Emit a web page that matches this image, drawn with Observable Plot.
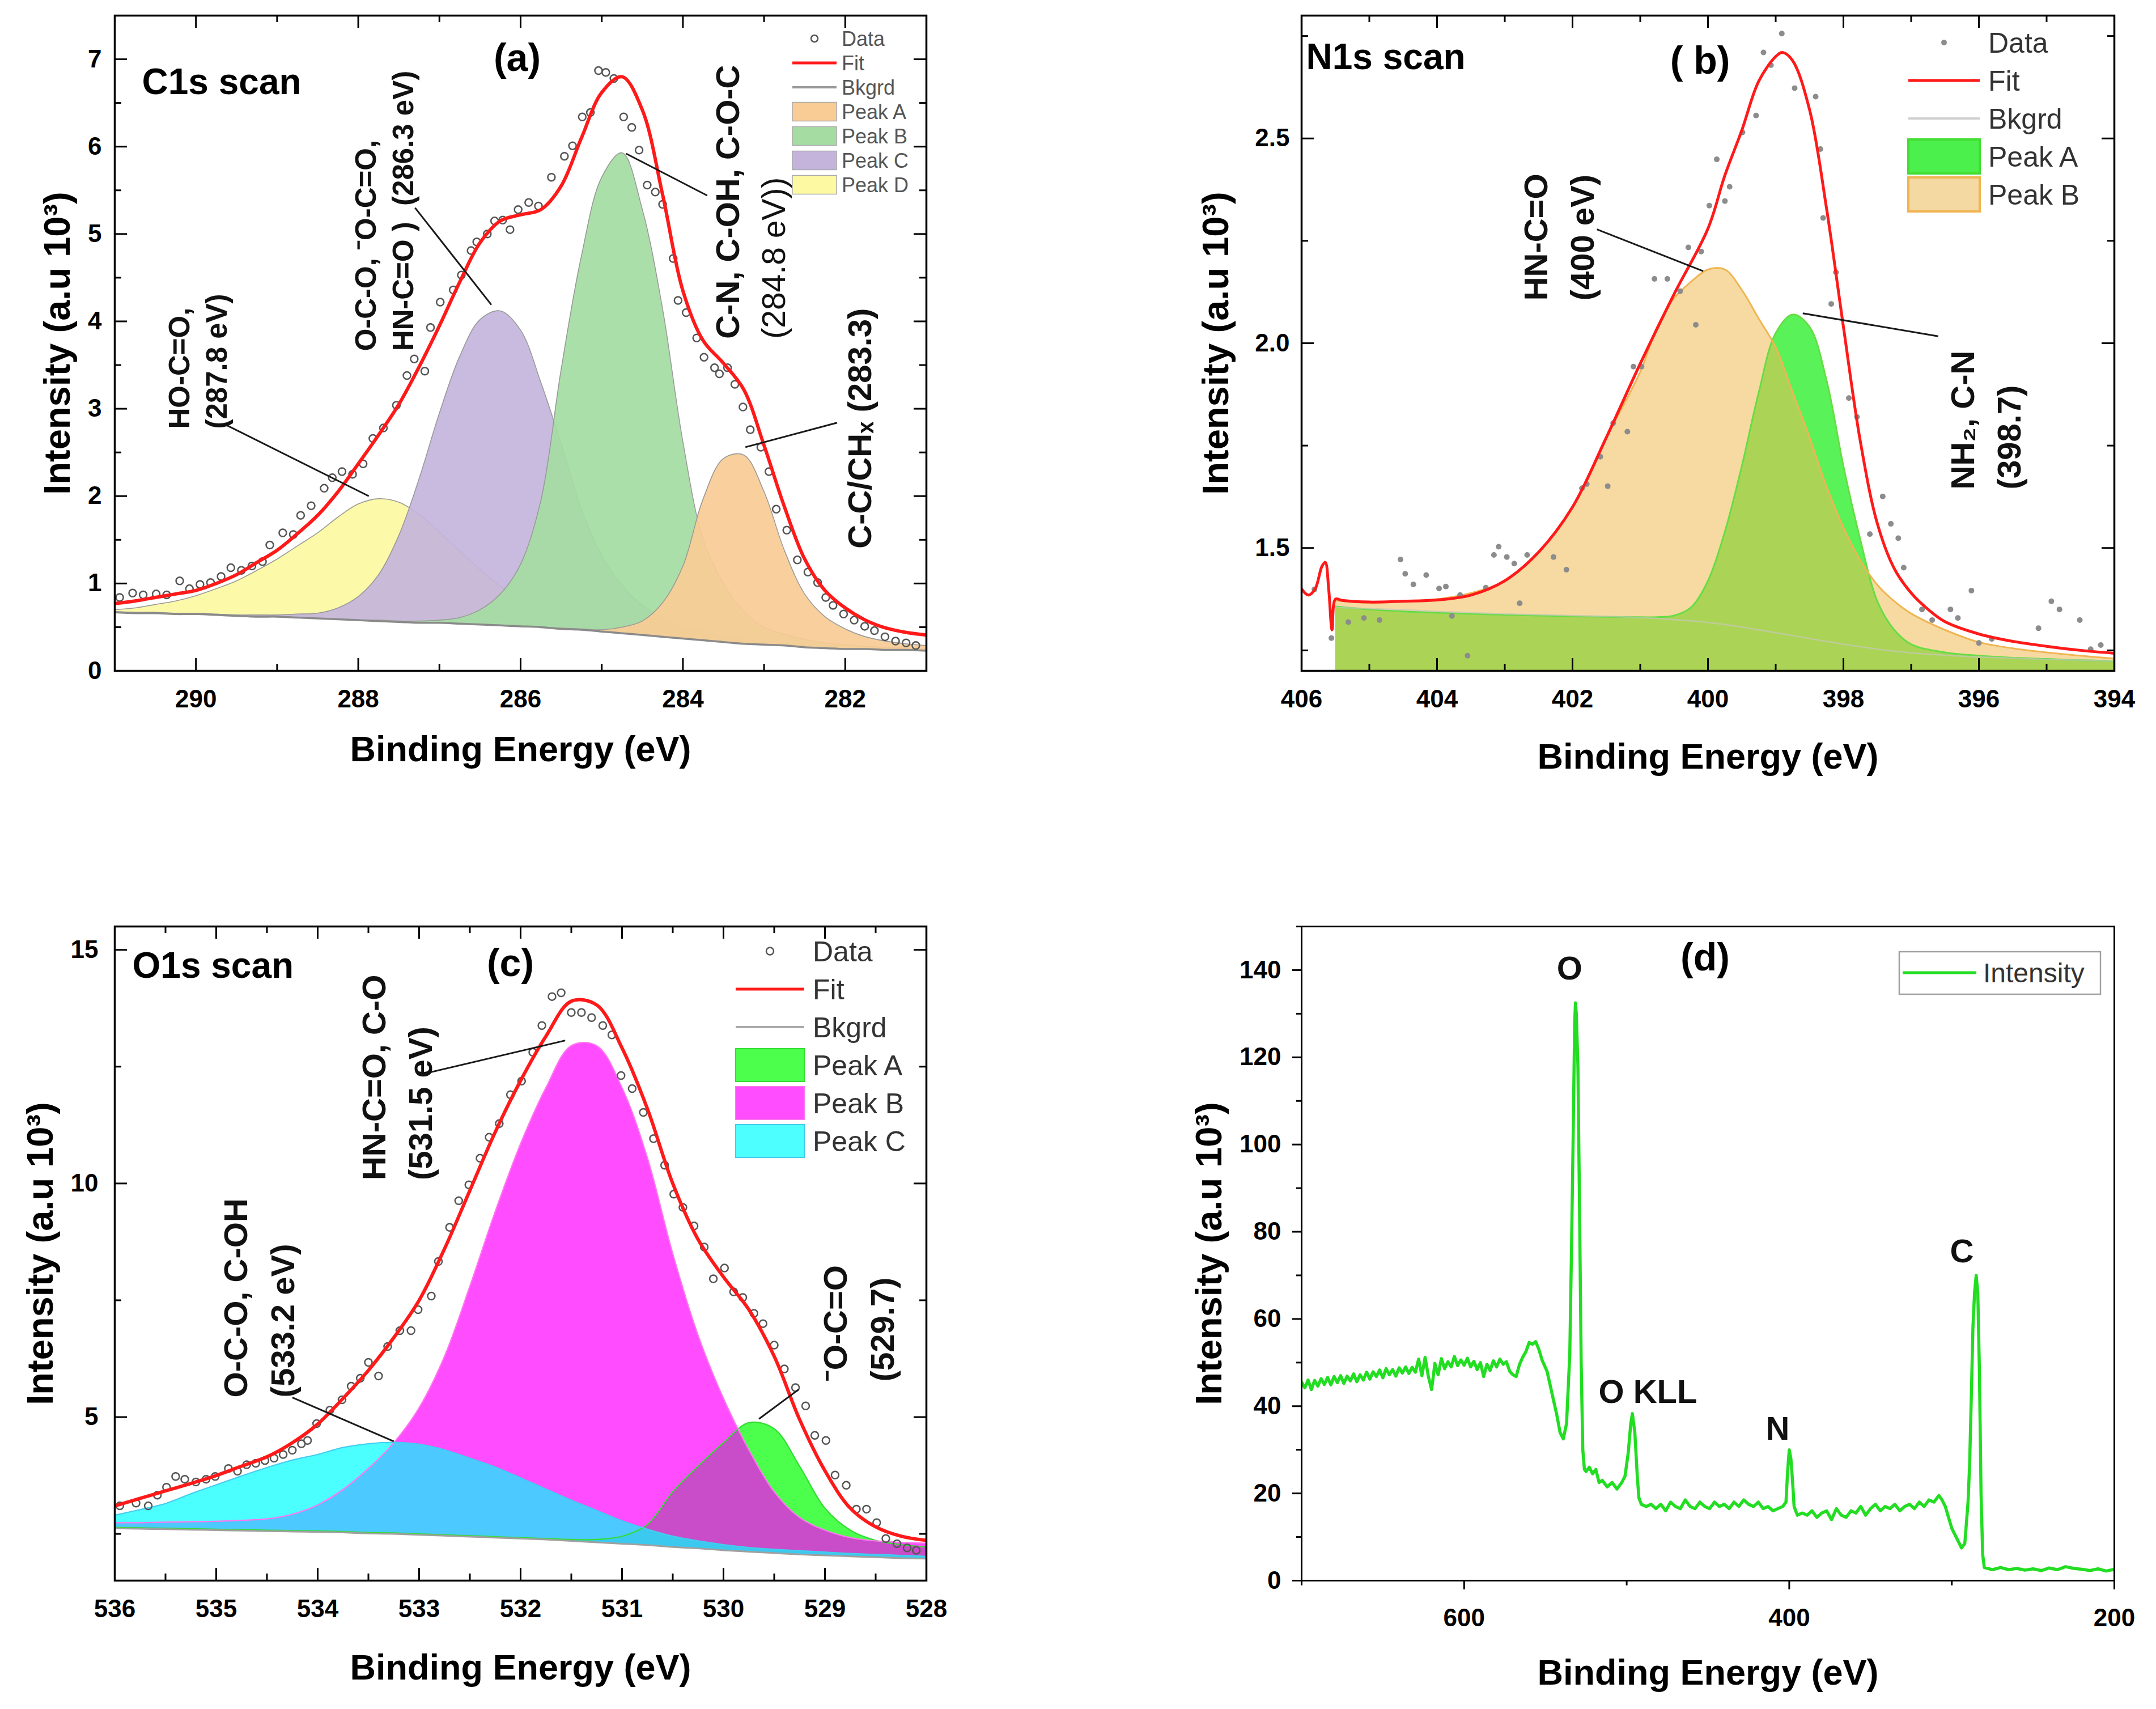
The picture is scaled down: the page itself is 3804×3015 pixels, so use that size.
<!DOCTYPE html>
<html><head><meta charset="utf-8">
<script src="https://cdn.jsdelivr.net/npm/d3@7"></script>
<script src="https://cdn.jsdelivr.net/npm/@observablehq/plot@0.6"></script>
<style>
html,body{margin:0;padding:0;background:#fff;}
#page{position:relative;width:3804px;height:3015px;background:#fff;overflow:hidden;font-family:"Liberation Sans",Arial,sans-serif;}
.panel{position:absolute;}
#overlay{position:absolute;left:0;top:0;pointer-events:none;}
</style></head>
<body><div id="page"></div>
<script>
// ---------------- Panel (a) C1s ----------------
const aXDomain = [291, 281];
const aYDomain = [0, 7.5];
const aXMajor = [290, 288, 286, 284, 282];
const aXMinor = [289, 287, 285, 283];
const aYMajor = [0, 1, 2, 3, 4, 5, 6, 7];
const aYMinor = [0.5, 1.5, 2.5, 3.5, 4.5, 5.5, 6.5];
const aX = [291,290.75,290.5,290.25,290,289.75,289.5,289.25,289,288.75,288.5,288.25,288,287.75,287.5,287.25,287,286.75,286.5,286.25,286,285.75,285.5,285.25,285,284.75,284.5,284.25,284,283.75,283.5,283.25,283,282.75,282.5,282.25,282,281.75,281.5,281.25,281];
const aBkg = [0.67,0.66,0.66,0.65,0.65,0.64,0.63,0.62,0.62,0.61,0.60,0.59,0.58,0.57,0.56,0.55,0.55,0.54,0.53,0.52,0.51,0.50,0.48,0.47,0.45,0.43,0.41,0.39,0.37,0.35,0.33,0.31,0.30,0.29,0.27,0.26,0.25,0.25,0.24,0.24,0.23];
const aPeakD = [0.70,0.72,0.76,0.80,0.86,0.94,1.03,1.15,1.28,1.43,1.58,1.76,1.91,1.97,1.93,1.79,1.59,1.37,1.16,0.97,0.83,0.72,0.64,0.58,0.54,0.50,0.47,0.43,0.40,0.37,0.35,0.33,0.31,0.30,0.28,0.27,0.26,0.25,0.24,0.24,0.23];
const aPeakC = [0.68,0.67,0.67,0.66,0.66,0.65,0.64,0.64,0.64,0.65,0.66,0.72,0.85,1.10,1.55,2.20,2.95,3.60,4.02,4.12,3.90,3.30,2.60,1.85,1.32,0.98,0.75,0.61,0.51,0.45,0.40,0.36,0.33,0.31,0.29,0.27,0.26,0.25,0.24,0.24,0.23];
const aPeakB = [0.67,0.66,0.66,0.65,0.65,0.64,0.63,0.62,0.62,0.61,0.60,0.59,0.58,0.58,0.57,0.57,0.58,0.61,0.70,0.88,1.22,1.95,3.45,4.75,5.65,5.93,5.28,4.14,2.62,1.50,1.00,0.68,0.50,0.42,0.36,0.32,0.30,0.28,0.27,0.26,0.25];
const aPeakA = [0.67,0.66,0.66,0.65,0.65,0.64,0.63,0.62,0.62,0.61,0.60,0.59,0.58,0.57,0.56,0.55,0.55,0.54,0.53,0.52,0.51,0.50,0.49,0.48,0.47,0.50,0.57,0.78,1.20,1.97,2.43,2.47,2.05,1.38,0.88,0.62,0.48,0.39,0.34,0.31,0.29];
const aFit = [0.77,0.80,0.84,0.88,0.92,1.00,1.10,1.24,1.38,1.57,1.78,2.05,2.37,2.70,3.05,3.48,3.95,4.45,4.90,5.15,5.22,5.28,5.55,6.10,6.62,6.80,6.42,5.45,4.35,3.78,3.52,3.22,2.58,1.88,1.28,0.92,0.72,0.58,0.49,0.44,0.41];
const aDataX = [290.94,290.78,290.65,290.49,290.36,290.2,290.08,289.95,289.82,289.69,289.57,289.44,289.31,289.18,289.09,288.93,288.8,288.71,288.58,288.42,288.32,288.2,288.07,287.94,287.82,287.69,287.53,287.4,287.31,287.18,287.11,286.99,286.83,286.73,286.61,286.54,286.41,286.32,286.22,286.13,286.03,285.9,285.78,285.62,285.46,285.36,285.24,285.14,285.04,284.95,284.85,284.73,284.63,284.54,284.44,284.34,284.25,284.12,284.06,283.96,283.83,283.74,283.61,283.55,283.45,283.36,283.26,283.17,283.04,282.94,282.85,282.72,282.59,282.46,282.34,282.24,282.15,282.02,281.89,281.76,281.64,281.51,281.38,281.25,281.13];
const aDataY = [0.84,0.89,0.87,0.88,0.87,1.03,0.94,0.99,1.01,1.08,1.18,1.15,1.2,1.25,1.44,1.58,1.56,1.78,1.89,2.09,2.21,2.28,2.25,2.37,2.66,2.78,3.04,3.38,3.57,3.43,3.93,4.22,4.36,4.53,4.81,4.91,5.0,5.15,5.16,5.05,5.28,5.36,5.32,5.65,5.89,6.01,6.34,6.39,6.87,6.85,6.78,6.34,6.22,5.96,5.56,5.48,5.34,4.72,4.24,4.1,3.81,3.59,3.47,3.4,3.47,3.28,3.02,2.76,2.56,2.28,1.85,1.61,1.27,1.13,1.01,0.84,0.75,0.65,0.58,0.51,0.46,0.39,0.34,0.32,0.29];
const aNoteLeftText = ["HO-C=O,\n(287.8 eV)", "O-C-O, \u207BO-C=O,\nHN-C=O )  (286.3 eV)"];
const aNoteLeftX = [290.0, 287.70];
const aNoteLeftY = [2.77, 3.66];
const aNoteRightText = ["C-N, C-OH, C-O-C", "C-C/CH\u2093 (283.3)"];
const aNoteRightX = [283.48, 281.85];
const aNoteRightY = [3.80, 1.40];
const aNoteLightText = ["(284.8 eV))"];
const aNoteLightX = [282.91];
const aNoteLightY = [3.80];
const aLeadX1 = [289.64, 287.30, 284.70, 283.23];
const aLeadY1 = [2.82, 5.30, 5.92, 2.56];
const aLeadX2 = [287.87, 286.36, 283.70, 282.10];
const aLeadY2 = [2.00, 4.19, 5.44, 2.84];
const aLegendLabels = ["Data", "Fit", "Bkgrd", "Peak A", "Peak B", "Peak C", "Peak D"];

// ---------------- Panel (b) N1s ----------------
const bXDomain = [406, 394];
const bYDomain = [1.2, 2.8];
const bXMajor = [406, 404, 402, 400, 398, 396, 394];
const bXMinor = [405, 403, 401, 399, 397, 395];
const bYMajor = [1.5, 2.0, 2.5];
const bYMinor = [1.25, 1.75, 2.25, 2.75];
const bX = [405.5,405,404.5,404,403.5,403,402.5,402,401.5,401,400.75,400.5,400.25,400,399.75,399.5,399.25,399,398.75,398.5,398.25,398,397.75,397.5,397.25,397,396.5,396,395.5,395,394.5,394];
const bBkg = [1.355,1.352,1.349,1.345,1.342,1.339,1.337,1.335,1.333,1.330,1.328,1.325,1.322,1.318,1.313,1.307,1.300,1.293,1.286,1.279,1.272,1.265,1.259,1.253,1.248,1.244,1.238,1.234,1.231,1.228,1.226,1.224];
const bPeakA = [1.357,1.350,1.345,1.342,1.339,1.337,1.335,1.333,1.332,1.331,1.331,1.335,1.355,1.42,1.54,1.70,1.88,2.025,2.07,2.04,1.91,1.70,1.52,1.37,1.30,1.265,1.245,1.237,1.232,1.229,1.226,1.224];
const bPeakB = [1.372,1.366,1.370,1.375,1.39,1.42,1.49,1.60,1.77,1.93,2.04,2.11,2.15,2.18,2.18,2.13,2.06,1.99,1.88,1.77,1.65,1.55,1.47,1.41,1.37,1.34,1.30,1.27,1.255,1.245,1.237,1.23];
const bFitX = [406,405.9,405.8,405.7,405.65,405.6,405.55,405.5,405.4,405,404.5,404,403.5,403,402.5,402,401.5,401,400.5,400,399.75,399.5,399.25,399,398.9,398.75,398.5,398.25,398,397.75,397.5,397.25,397,396.75,396.5,396,395.5,395,394.5,394];
const bFit = [1.40,1.385,1.40,1.455,1.465,1.40,1.30,1.375,1.372,1.368,1.370,1.373,1.385,1.42,1.49,1.60,1.77,1.95,2.12,2.28,2.41,2.52,2.64,2.70,2.71,2.69,2.57,2.33,2.04,1.76,1.56,1.45,1.39,1.35,1.32,1.29,1.272,1.26,1.25,1.243];
const bDataX = [405.81,405.56,405.31,405.08,404.85,404.54,404.47,404.35,404.16,403.97,403.87,403.78,403.66,403.55,403.28,403.16,403.09,402.97,402.86,402.78,402.67,402.28,402.09,401.86,401.79,401.59,401.48,401.40,401.19,401.10,400.98,400.79,400.60,400.41,400.29,400.18,400.10,399.98,399.87,399.75,399.68,399.49,399.29,399.18,399.07,398.91,398.72,398.41,398.34,398.30,398.18,398.11,397.92,397.80,397.61,397.42,397.30,397.19,397.11,396.84,396.69,396.42,396.31,396.11,396.00,395.81,395.12,394.93,394.81,394.51,394.35,394.20];
const bDataY = [1.399,1.28,1.319,1.329,1.324,1.472,1.437,1.411,1.434,1.401,1.406,1.334,1.385,1.237,1.403,1.483,1.503,1.478,1.462,1.365,1.483,1.478,1.447,1.646,1.656,1.723,1.651,1.805,1.784,1.943,1.943,2.157,2.157,2.127,2.234,2.045,2.224,2.336,2.449,2.347,2.382,2.515,2.556,2.710,2.679,2.756,2.623,2.602,2.474,2.306,2.096,2.173,1.866,1.820,1.534,1.626,1.559,1.524,1.452,1.350,1.324,1.350,1.329,1.396,1.268,1.278,1.304,1.370,1.350,1.324,1.253,1.263];
const bNoteText = ["HN-C=O\n(400 eV)", "NH\u2082, C-N\n(398.7)"];
const bNoteX = [402.25, 395.95];
const bNoteY = [2.104, 1.643];
const bLeadX1 = [401.64, 398.6];
const bLeadY1 = [2.278, 2.073];
const bLeadX2 = [400.07, 396.6];
const bLeadY2 = [2.176, 2.017];
const bLegendLabels = ["Data", "Fit", "Bkgrd", "Peak A", "Peak B"];

// ---------------- Panel (c) O1s ----------------
const cXDomain = [536, 528];
const cYDomain = [1.5, 15.5];
const cXMajor = [536, 535, 534, 533, 532, 531, 530, 529, 528];
const cXMinor = [535.5, 534.5, 533.5, 532.5, 531.5, 530.5, 529.5, 528.5];
const cYMajor = [5, 10, 15];
const cYMinor = [2.5, 7.5, 12.5];
const cX = [536,535.75,535.5,535.25,535,534.75,534.5,534.25,534,533.75,533.5,533.25,533,532.75,532.5,532.25,532,531.75,531.5,531.25,531,530.75,530.5,530.25,530,529.75,529.5,529.25,529,528.75,528.5,528.25,528];
const cBkg = [2.62,2.61,2.60,2.59,2.58,2.57,2.56,2.55,2.54,2.53,2.51,2.50,2.48,2.46,2.44,2.42,2.40,2.38,2.35,2.32,2.29,2.26,2.22,2.19,2.15,2.12,2.09,2.06,2.04,2.02,2.00,1.98,1.97];
const cPeakA = [2.64,2.63,2.62,2.61,2.60,2.59,2.58,2.57,2.56,2.55,2.53,2.52,2.50,2.48,2.46,2.44,2.42,2.40,2.38,2.38,2.45,2.70,3.40,3.95,4.45,4.88,4.75,3.95,3.05,2.58,2.36,2.27,2.22];
const cPeakB = [2.74,2.74,2.75,2.76,2.77,2.79,2.82,2.92,3.12,3.45,3.90,4.45,5.20,6.30,7.80,9.40,10.85,12.05,12.95,12.95,12.05,10.55,8.50,6.75,5.40,4.30,3.40,2.85,2.58,2.42,2.35,2.32,2.30];
const cPeakC = [2.90,3.02,3.15,3.36,3.55,3.74,3.92,4.08,4.20,4.35,4.43,4.46,4.42,4.30,4.12,3.93,3.70,3.46,3.22,3.00,2.78,2.60,2.45,2.35,2.27,2.21,2.17,2.14,2.11,2.08,2.06,2.04,2.02];
const cFit = [3.10,3.26,3.42,3.58,3.75,3.95,4.15,4.45,4.85,5.40,6.00,6.70,7.50,8.60,9.85,11.10,12.20,13.15,13.90,13.82,12.90,11.60,10.00,8.80,8.00,7.30,6.30,4.95,3.85,3.05,2.65,2.45,2.36];
const cDataX = [535.95,535.79,535.67,535.58,535.49,535.4,535.31,535.2,535.1,535.01,534.88,534.79,534.7,534.61,534.52,534.43,534.34,534.25,534.16,534.1,534.01,533.88,533.76,533.67,533.58,533.5,533.4,533.31,533.19,533.08,533.01,532.88,532.81,532.7,532.61,532.51,532.4,532.31,532.21,532.1,531.99,531.88,531.79,531.69,531.6,531.5,531.4,531.3,531.19,531.1,531.01,530.9,530.79,530.69,530.58,530.49,530.4,530.29,530.19,530.1,529.99,529.9,529.81,529.7,529.61,529.5,529.4,529.29,529.19,529.1,528.99,528.9,528.79,528.69,528.59,528.49,528.4,528.29,528.19,528.1];
const cDataY = [3.10,3.16,3.10,3.33,3.50,3.73,3.67,3.61,3.67,3.73,3.90,3.84,3.98,4.01,4.07,4.12,4.20,4.29,4.43,4.50,4.86,5.15,5.37,5.66,5.83,6.17,5.88,6.51,6.85,6.85,7.30,7.59,8.33,9.06,9.63,9.97,10.54,10.99,11.28,11.90,12.19,12.81,13.38,14.0,14.08,13.66,13.66,13.55,13.38,13.18,12.31,12.03,11.52,10.96,10.39,9.77,9.49,9.09,8.64,7.96,8.19,7.68,7.56,7.22,7.0,6.54,6.03,5.63,5.24,4.61,4.50,3.76,3.54,3.03,3.03,2.74,2.40,2.29,2.20,2.15];
const cNoteText = ["HN-C=O, C-O\n(531.5 eV)", "O-C-O, C-OH\n(533.2 eV)", "\u207BO-C=O\n(529.7)"];
const cNoteX = [533.25, 534.61, 528.70];
const cNoteY = [10.07, 5.42, 5.76];
const cLeadX1 = [532.89, 534.25, 529.65];
const cLeadY1 = [12.38, 5.42, 4.96];
const cLeadX2 = [531.56, 533.25, 529.26];
const cLeadY2 = [13.06, 4.48, 5.59];
const cLegendLabels = ["Data", "Fit", "Bkgrd", "Peak A", "Peak B", "Peak C"];

// ---------------- Panel (d) survey ----------------
const dXDomain = [700, 200];
const dYDomain = [0, 150];
const dXMajor = [600, 400, 200];
const dXMinor = [700, 500, 300];
const dYMajor = [0, 20, 40, 60, 80, 100, 120, 140];
const dYMinor = [10, 30, 50, 70, 90, 110, 130, 150];
const dX = [700,698,696,694,692,690,688,686,684,682,680,678,676,674,672,670,668,666,664,662,660,658,656,654,652,650,648,646,644,642,640,638,636,634,632,630,628,626,624,622,620,618,616,614,612,610,608,606,604,602,600,598,596,594,592,590,588,586,584,582,580,578,576,574,572,570,568,566,564,562,
 560,558,556,554,552,549,546,543,541,539,537,535,534,533,532,531.5,531,530,529,528,527,526,525,
 523,521,519,517,515,512,509,506,503,501,499,497.5,496.5,495,493.5,492.5,491,
 488,485,482,479,476,473,470,467,464,461,458,455,452,449,446,443,440,437,434,431,428,425,422,419,416,413,410,407,404,
 402,401,400,399,398,397,395,
 392,389,386,383,380,377,374,371,368,365,362,359,356,353,350,347,344,341,338,335,332,329,326,323,320,317,314,311,308,
 306,304,302,300,298,296,294,292,290,289,288,287,286,285,284,283,282,281,280,
 275,270,265,260,255,250,245,240,235,230,225,220,215,210,205,200];
const dY = [45.5,44.2,46.0,43.8,45.9,44.6,46.3,45.0,46.6,44.9,46.8,45.4,47.0,45.2,46.9,45.8,47.4,45.6,47.2,46.0,47.8,46.2,47.9,46.8,48.3,46.5,48.6,47.2,48.4,46.9,48.8,47.6,49.0,47.5,48.9,47.8,50.8,47.0,51.2,46.8,43.8,49.8,47.2,50.9,48.6,50.2,49.0,51.4,49.3,50.6,49.4,51.0,49.0,50.3,48.4,50.0,46.8,49.6,48.2,50.4,49.0,50.8,49.6,50.2,48.0,47.2,46.8,49.5,51.2,52.5,
 54.6,54.2,54.8,53,50.5,48,43,38,34,32.5,36,52,75,100,128,132.5,130,118,85,50,30,25.5,25,
 26,24.5,25.5,22.5,23,21.5,22.5,21,22.5,24,29.5,36,38.3,34,24,19,17.5,
 17,17.5,16.5,17.5,16,18,17,16.5,18.5,17,16.5,18,17,16.5,18,17,17.5,16.5,18,17,18.5,17.5,17,18,16.5,17,16,16.5,17,
 18,25,30,28,23,17,15,
 15.5,15,16,14.5,15.5,16,14,16.5,15,14.5,16,15.5,17,15,16.5,17.5,16,17,16.5,17.5,16,17,17.5,16.5,18,17,18.5,18,19.5,
 18.5,17,14.5,12,10.5,9,7.5,8.5,18,27,42,58,66,70,66,48,20,6,3,
 2.5,3,2.5,2.8,2.4,2.7,2.3,2.9,2.5,3.2,2.8,2.6,2.3,2.7,2.2,2.6];
const dNoteText = ["O", "O KLL", "N", "C"];
const dNoteX = [535.1, 487.0, 407.1, 293.8];
const dNoteY = [140.3, 43.2, 34.7, 75.4];

// ---------------- shared ----------------
const FONT = "'Liberation Sans', Arial, Helvetica, sans-serif";
const X_TITLE = "Binding Energy (eV)";
const Y_TITLE = "Intensity (a.u 10\u00B3)";
const CURVE = "catmull-rom";

function inwardTicks(xMaj, xMin, yMaj, yMin, W, H) {
  const L = 22, S = 12, o = {stroke: "#000", strokeWidth: 3};
  return [
    Plot.tickX(xMaj, {x: d => d, insetTop: H - L, ...o}),
    Plot.tickX(xMaj, {x: d => d, insetBottom: H - L, ...o}),
    Plot.tickX(xMin, {x: d => d, insetTop: H - S, ...o}),
    Plot.tickX(xMin, {x: d => d, insetBottom: H - S, ...o}),
    Plot.tickY(yMaj, {y: d => d, insetRight: W - L, ...o}),
    Plot.tickY(yMaj, {y: d => d, insetLeft: W - L, ...o}),
    Plot.tickY(yMin, {y: d => d, insetRight: W - S, ...o}),
    Plot.tickY(yMin, {y: d => d, insetLeft: W - S, ...o})
  ];
}
function axisLabels(xMaj, yMaj, yFmt, xPad, yPad) {
  return [
    Plot.axisX({ticks: xMaj, tickSize: 0, tickPadding: xPad, label: null, fontSize: 44, fontWeight: "bold"}),
    Plot.axisY({ticks: yMaj, tickSize: 0, tickPadding: yPad, label: null, tickFormat: yFmt, fontSize: 44, fontWeight: "bold"})
  ];
}
function titles(xdy, ydx) {
  return [
    Plot.text([X_TITLE], {text: d => d, frameAnchor: "bottom", dy: xdy, textAnchor: "middle", lineAnchor: "middle", fontSize: 63, fontWeight: "bold"}),
    Plot.text([Y_TITLE], {text: d => d, frameAnchor: "left", dx: ydx, rotate: -90, textAnchor: "middle", lineAnchor: "middle", fontSize: 65, fontWeight: "bold"})
  ];
}
function corner(txt, dx, dy, fs, anchor) {
  return Plot.text([txt], {text: d => d, frameAnchor: "top-left", dx, dy, textAnchor: anchor, lineAnchor: "middle", fontSize: fs, fontWeight: "bold"});
}
function notes(texts, xs, ys, fs, lh, weight) {
  return Plot.text(texts, {x: xs, y: ys, text: texts, rotate: -90, textAnchor: "start", lineAnchor: "middle", lineHeight: lh, fontSize: fs, fontWeight: weight, fill: "#111"});
}
function leaders(x1, y1, x2, y2) {
  return Plot.link(x1, {x1, y1, x2, y2, stroke: "#1a1a1a", strokeWidth: 3});
}
function makePlot(cfg) {
  return Plot.plot({
    width: cfg.w, height: cfg.h,
    marginTop: cfg.m[0], marginRight: cfg.m[1], marginBottom: cfg.m[2], marginLeft: cfg.m[3],
    x: {domain: cfg.xd}, y: {domain: cfg.yd},
    style: {fontFamily: FONT, fontSize: "44px", fontWeight: "bold", color: "#000", background: "transparent", overflow: "visible"},
    marks: cfg.marks
  });
}

const page = document.getElementById("page");
function place(svg, left, top) {
  const div = document.createElement("div");
  div.className = "panel";
  div.style.left = left + "px"; div.style.top = top + "px";
  div.appendChild(svg);
  page.appendChild(div);
}

// ---- (a)
{
  const W = 1432, H = 1156;
  const area = (y2, fill) => Plot.areaY(aX, {x: aX, y1: aBkg, y2, curve: CURVE, fill, fillOpacity: 0.92, clip: true});
  const edge = (y) => Plot.line(aX, {x: aX, y, curve: CURVE, stroke: "#9a9a9a", strokeWidth: 1.6, clip: true});
  place(makePlot({
    w: 1800, h: 1480, m: [27, 166, 297, 202], xd: aXDomain, yd: aYDomain,
    marks: [
      area(aPeakD, "#fcf9a2"), edge(aPeakD),
      area(aPeakC, "#c4b4dc"), edge(aPeakC),
      area(aPeakB, "#a4dca2"), edge(aPeakB),
      area(aPeakA, "#f9cc95"), edge(aPeakA),
      Plot.line(aX, {x: aX, y: aBkg, curve: CURVE, stroke: "#8a8a8a", strokeWidth: 3.5}),
      Plot.dot(aDataX, {x: aDataX, y: aDataY, r: 6.5, fill: "none", stroke: "#555", strokeWidth: 2.5, clip: true}),
      Plot.line(aX, {x: aX, y: aFit, curve: CURVE, stroke: "#ff1a1a", strokeWidth: 6, clip: true}),
      leaders(aLeadX1, aLeadY1, aLeadX2, aLeadY2),
      notes(aNoteLeftText, aNoteLeftX, aNoteLeftY, 51, 1.3, "bold"),
      notes(aNoteRightText, aNoteRightX, aNoteRightY, 58, 1.3, "bold"),
      notes(aNoteLightText, aNoteLightX, aNoteLightY, 57, 1.3, "normal"),
      corner("C1s scan", 48, 118, 64, "start"),
      corner("(a)", 710, 76, 68, "middle"),
      Plot.frame({stroke: "#000", strokeWidth: 3.5}),
      ...inwardTicks(aXMajor, aXMinor, aYMajor, aYMinor, W, H),
      ...axisLabels(aXMajor, aYMajor, d3.format("d"), 33, 23),
      ...titles(139, -100)
    ]
  }), 0, 0);
}
// ---- (b)
{
  const W = 1434, H = 1156;
  place(makePlot({
    w: 2004, h: 1480, m: [27, 74, 297, 496], xd: bXDomain, yd: bYDomain,
    marks: [
      Plot.areaY(bX, {x: bX, y1: bYDomain[0], y2: bPeakA, curve: CURVE, fill: "#22ee22", fillOpacity: 0.75, clip: true}),
      Plot.areaY(bX, {x: bX, y1: bYDomain[0], y2: bPeakB, curve: CURVE, fill: "#eebb55", fillOpacity: 0.55, clip: true}),
      Plot.line(bX, {x: bX, y: bPeakA, curve: CURVE, stroke: "#66dd44", strokeWidth: 3, clip: true}),
      Plot.line(bX, {x: bX, y: bPeakB, curve: CURVE, stroke: "#f0b552", strokeWidth: 3, clip: true}),
      Plot.line(bX, {x: bX, y: bBkg, curve: CURVE, stroke: "#c8c8b8", strokeWidth: 2.5, strokeOpacity: 0.7, clip: true}),
      Plot.dot(bDataX, {x: bDataX, y: bDataY, r: 5, fill: "#8c8c8c", clip: true}),
      Plot.line(bFitX, {x: bFitX, y: bFit, curve: CURVE, stroke: "#ff1a1a", strokeWidth: 5, clip: true}),
      leaders(bLeadX1, bLeadY1, bLeadX2, bLeadY2),
      notes(bNoteText, bNoteX, bNoteY, 58, 1.42, "bold"),
      corner("N1s scan", 8, 74, 64, "start"),
      corner("( b)", 703, 81, 68, "middle"),
      Plot.frame({stroke: "#000", strokeWidth: 3.5}),
      ...inwardTicks(bXMajor, bXMinor, bYMajor, bYMinor, W, H),
      ...axisLabels(bXMajor, bYMajor, d3.format(".1f"), 33, 21),
      ...titles(152, -150)
    ]
  }), 1800, 0);
}
// ---- (c)
{
  const W = 1432, H = 1154;
  const area = (y2, fill) => Plot.areaY(cX, {x: cX, y1: cBkg, y2, curve: CURVE, fill, fillOpacity: 0.7, clip: true});
  const edge = (y, s) => Plot.line(cX, {x: cX, y, curve: CURVE, stroke: s, strokeWidth: 2.2, clip: true});
  place(makePlot({
    w: 1800, h: 1535, m: [154, 166, 227, 202], xd: cXDomain, yd: cYDomain,
    marks: [
      area(cPeakA, "#00ff00"),
      area(cPeakB, "#ff00ff"),
      area(cPeakC, "#00ffff"),
      edge(cPeakA, "#33dd33"), edge(cPeakB, "#ff77ee"), edge(cPeakC, "#44ccee"),
      Plot.line(cX, {x: cX, y: cBkg, curve: CURVE, stroke: "#a0a0a0", strokeWidth: 3}),
      Plot.dot(cDataX, {x: cDataX, y: cDataY, r: 6.5, fill: "none", stroke: "#555", strokeWidth: 2.5, clip: true}),
      Plot.line(cX, {x: cX, y: cFit, curve: CURVE, stroke: "#ff1a1a", strokeWidth: 6, clip: true}),
      leaders(cLeadX1, cLeadY1, cLeadX2, cLeadY2),
      notes(cNoteText, cNoteX, cNoteY, 58, 1.42, "bold"),
      corner("O1s scan", 31, 70, 64, "start"),
      corner("(c)", 698, 66, 68, "middle"),
      Plot.frame({stroke: "#000", strokeWidth: 3.5}),
      ...inwardTicks(cXMajor, cXMinor, cYMajor, cYMinor, W, H),
      ...axisLabels(cXMajor, cYMajor, d3.format("d"), 33, 29),
      ...titles(154, -130)
    ]
  }), 0, 1480);
}
// ---- (d)
{
  place(makePlot({
    w: 2004, h: 1535, m: [154, 74, 227, 496], xd: dXDomain, yd: dYDomain,
    marks: [
      Plot.line(dX, {x: dX, y: dY, stroke: "#22dd22", strokeWidth: 5.5, strokeLinejoin: "round", clip: true}),
      Plot.text(dNoteText, {x: dNoteX, y: dNoteY, text: dNoteText, fontSize: 58, fontWeight: "bold", lineAnchor: "middle", fill: "#111"}),
      corner("(d)", 712, 56, 68, "middle"),
      Plot.frame({stroke: "#000", strokeWidth: 3}),
      Plot.axisX({ticks: dXMajor, tickSize: 16, tickPadding: 33, strokeWidth: 3, label: null, fontSize: 44, fontWeight: "bold"}),
      Plot.axisX({ticks: dXMinor, tickSize: 9, tickFormat: () => "", strokeWidth: 3, label: null}),
      Plot.axisY({ticks: dYMajor, tickSize: 16, tickPadding: 20, strokeWidth: 3, label: null, fontSize: 44, fontWeight: "bold"}),
      Plot.axisY({ticks: dYMinor, tickSize: 9, tickFormat: () => "", strokeWidth: 3, label: null}),
      ...titles(163, -162)
    ]
  }), 1800, 1480);
}

// ---------------- legends (overlay) ----------------
const ov = d3.select(page).append("svg").attr("id", "overlay")
  .attr("width", 3804).attr("height", 3015).style("font-family", FONT);
function legend(L) {
  L.items.forEach((it, i) => {
    const cy = L.y0 + i * L.dy, cx = (L.x0 + L.x1) / 2;
    if (it.kind === "circle") {
      ov.append("circle").attr("cx", cx).attr("cy", cy).attr("r", it.r)
        .attr("fill", it.fill || "none").attr("stroke", it.stroke || "none").attr("stroke-width", it.sw || 0);
    } else if (it.kind === "line") {
      ov.append("line").attr("x1", L.x0).attr("x2", L.x1).attr("y1", cy).attr("y2", cy)
        .attr("stroke", it.stroke).attr("stroke-width", it.sw);
    } else {
      ov.append("rect").attr("x", L.x0).attr("y", cy - L.h / 2).attr("width", L.x1 - L.x0).attr("height", L.h)
        .attr("fill", it.fill).attr("stroke", it.stroke).attr("stroke-width", it.sw);
    }
    ov.append("text").attr("x", L.tx).attr("y", cy).attr("dy", "0.36em")
      .attr("font-size", L.fs).attr("fill", L.color).text(L.labels[i]);
  });
}
legend({x0: 1398, x1: 1476, tx: 1485, y0: 68, dy: 43, h: 33, fs: 36, color: "#555", labels: aLegendLabels, items: [
  {kind: "circle", r: 6, stroke: "#555", sw: 2.5},
  {kind: "line", stroke: "#ff1a1a", sw: 5},
  {kind: "line", stroke: "#999", sw: 4},
  {kind: "rect", fill: "#f9cc95", stroke: "#aaa", sw: 1.5},
  {kind: "rect", fill: "#a4dca2", stroke: "#aaa", sw: 1.5},
  {kind: "rect", fill: "#c4b4dc", stroke: "#aaa", sw: 1.5},
  {kind: "rect", fill: "#fcf9a2", stroke: "#aaa", sw: 1.5}
]});
legend({x0: 3367, x1: 3493, tx: 3508, y0: 75, dy: 67, h: 60, fs: 50, color: "#333", labels: bLegendLabels, items: [
  {kind: "circle", r: 5, fill: "#8c8c8c"},
  {kind: "line", stroke: "#ff1a1a", sw: 5},
  {kind: "line", stroke: "#d0d0d0", sw: 4},
  {kind: "rect", fill: "#4cf04c", stroke: "#44dd33", sw: 4},
  {kind: "rect", fill: "#f4d9a2", stroke: "#f0b552", sw: 4}
]});
legend({x0: 1298, x1: 1419, tx: 1434, y0: 1678, dy: 67, h: 58, fs: 50, color: "#333", labels: cLegendLabels, items: [
  {kind: "circle", r: 6.5, stroke: "#555", sw: 2.5},
  {kind: "line", stroke: "#ff1a1a", sw: 5},
  {kind: "line", stroke: "#aaa", sw: 4},
  {kind: "rect", fill: "#4dff4d", stroke: "#33dd33", sw: 2},
  {kind: "rect", fill: "#ff4dff", stroke: "#ff77ee", sw: 2},
  {kind: "rect", fill: "#4dffff", stroke: "#44ccee", sw: 2}
]});
ov.append("rect").attr("x", 3351).attr("y", 1679).attr("width", 355).attr("height", 75)
  .attr("fill", "#fff").attr("stroke", "#a0a0a0").attr("stroke-width", 2.5);
legend({x0: 3357, x1: 3487, tx: 3499, y0: 1716, dy: 0, h: 0, fs: 48, color: "#333", labels: ["Intensity"], items: [
  {kind: "line", stroke: "#22dd22", sw: 5}
]});
</script>
</body></html>
